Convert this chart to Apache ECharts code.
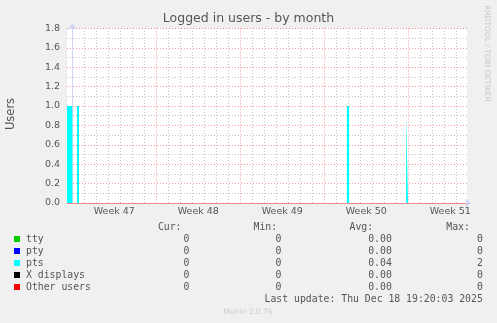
<!DOCTYPE html>
<html><head><meta charset="utf-8">
<script src="https://cdn.jsdelivr.net/npm/echarts@6/dist/echarts.min.js"></script>
<style>html,body{margin:0;padding:0;background:#f0f0f0;}#c{width:497px;height:323px;}</style>
</head><body><div id="c"></div>
<script>
// ---- data ----
const weekLabels = ['Week 47', 'Week 48', 'Week 49', 'Week 50', 'Week 51'];
const weekStarts = [0, 7, 14, 21, 28];            // days since Monday of week 47
const xMin = -0.44, xMax = 32.893;                 // visible time span (days)
const yTicks = [0, 0.2, 0.4, 0.6, 0.8, 1.0, 1.2, 1.4, 1.6, 1.8];
// pts logged-in users: periods (start day, end day) and averaged value
const ptsStart = [-0.44, 0.39, 22.88, 27.82];
const ptsEnd   = [0.0, 0.56, 23.07, 27.98];
const ptsValue = [1.0, 1.0, 1.0, 0.9];
const legendNames  = ['tty', 'pty', 'pts', 'X displays', 'Other users'];
const legendColors = ['#00cc00', '#0000ff', '#00ffff', '#000000', '#ff0000'];
const curValues = ['0', '0', '0', '0', '0'];
const minValues = ['0', '0', '0', '0', '0'];
const avgValues = ['0.00', '0.00', '0.04', '0.00', '0.00'];
const maxValues = ['0', '0', '2', '0', '0'];
const lastUpdate = 'Last update: Thu Dec 18 19:20:03 2025';

// ---- build ----
const dayTicks = [];
for (let d = Math.ceil(xMin); d <= xMax; d++) if (weekStarts.indexOf(d) < 0) dayTicks.push(d);
const ptsData = [[xMin, 0]];
for (let i = 0; i < ptsStart.length; i++) {
  ptsData.push([ptsStart[i], 0], [ptsStart[i], ptsValue[i]], [ptsEnd[i], ptsValue[i]], [ptsEnd[i], 0]);
}
ptsData.push([xMax, 0]);

const MONO = '"DejaVu Sans Mono", monospace';
const SANS = '"DejaVu Sans", sans-serif';
const FS = 9.8, TXT = '#555';
const graphics = [];
function txt(x, y, s, align, extra) {
  graphics.push(Object.assign({type: 'text', x: x, y: y, silent: true,
    style: {text: s, fill: TXT, font: FS + 'px ' + MONO, textAlign: align, textVerticalAlign: 'middle'}}, extra || {}));
}
const headY = 227, rowY0 = 239, rowH = 12;
txt(181.5, headY, 'Cur:', 'right');
txt(253.5, headY, 'Min:', 'left');
txt(349.5, headY, 'Avg:', 'left');
txt(446.3, headY, 'Max:', 'left');
legendNames.forEach((n, i) => {
  const y = rowY0 + i * rowH;
  graphics.push({type: 'rect', silent: true, shape: {x: 14, y: y - 3, width: 6, height: 6}, style: {fill: legendColors[i]}});
  txt(26, y, n, 'left');
  txt(189.5, y, curValues[i], 'right');
  txt(281.5, y, minValues[i], 'right');
  txt(391.8, y, avgValues[i], 'right');
  txt(482.8, y, maxValues[i], 'right');
});
txt(482.8, 299, lastUpdate, 'right');
graphics.push({type: 'text', x: 248, y: 312, silent: true,
  style: {text: 'Munin 2.0.76', fill: '#cccccc', font: '7.5px ' + SANS, textAlign: 'center', textVerticalAlign: 'middle'}});
graphics.push({type: 'text', x: 487, y: 53.5, rotation: -Math.PI / 2, silent: true,
  style: {text: 'RRDTOOL / TOBI OETIKER', fill: '#c8c8c8', font: '7.5px ' + SANS, textAlign: 'center', textVerticalAlign: 'middle'}});
graphics.push({type: 'text', x: 11, y: 114, rotation: Math.PI / 2, silent: true,
  style: {text: 'Users', fill: TXT, font: '11.5px ' + SANS, textAlign: 'center', textVerticalAlign: 'middle'}});

const MGRID = 'rgba(255,0,0,0.42)', GRID = '#c4c4c4';
const chart = echarts.init(document.getElementById('c'), null, {renderer: 'canvas'});
chart.setOption({
  animation: false,
  backgroundColor: '#f0f0f0',
  title: {text: 'Logged in users - by month', left: 'center', top: 12, padding: 0,
    textStyle: {fontSize: 12.5, fontWeight: 'normal', color: TXT, fontFamily: SANS}},
  grid: {left: 67, top: 28.4, width: 400, height: 174.6, show: true, backgroundColor: '#ffffff', borderWidth: 0},
  xAxis: [
    {type: 'value', min: xMin, max: xMax, position: 'bottom',
      axisLine: {show: true, onZero: false, lineStyle: {color: '#ee8a8a', width: 1}},
      axisTick: {show: false}, axisLabel: {show: false}, splitLine: {show: false}},
    {type: 'value', min: xMin, max: xMax, position: 'bottom',
      axisLine: {show: true, onZero: false, symbol: ['none', 'arrow'], symbolSize: [7, 6], symbolOffset: [0, 4],
        lineStyle: {color: '#cfd6f8', width: 0}},
      axisTick: {show: false, customValues: weekStarts},
      axisLabel: {show: true, customValues: weekStarts.map(d => d + 3.5), color: TXT, fontSize: 9.5, fontFamily: SANS, margin: 4,
        formatter: v => weekLabels[Math.round((v - 3.5) / 7)]},
      splitLine: {show: true, lineStyle: {color: MGRID, type: [1, 2], width: 1}}}
  ],
  yAxis: {type: 'value', min: yTicks[0], max: yTicks[yTicks.length - 1], interval: 0.2,
    axisLine: {show: true, symbol: ['none', 'arrow'], symbolSize: [7, 6], symbolOffset: [0, 5], lineStyle: {color: '#cfd6f8'}},
    axisTick: {show: false},
    axisLabel: {color: TXT, fontSize: 9.5, fontFamily: SANS, margin: 7, formatter: v => v.toFixed(1)},
    splitLine: {show: true, lineStyle: {color: MGRID, type: [1, 2], width: 1}},
    minorTick: {show: false, splitNumber: 2},
    minorSplitLine: {show: true, lineStyle: {color: GRID, type: [1, 2], width: 1}}},
  series: [{
    name: 'daygrid', type: 'line', xAxisIndex: 0, yAxisIndex: 0, data: [], z: 1, silent: true,
    markLine: {silent: true, z: 1, symbol: ['none', 'none'], label: {show: false}, animation: false,
      lineStyle: {color: GRID, type: [1, 2], width: 1},
      data: dayTicks.map(d => ({xAxis: d}))}
  }, {
    name: 'pts', type: 'line', xAxisIndex: 0, yAxisIndex: 0, data: ptsData,
    showSymbol: false, symbol: 'none', lineStyle: {width: 0}, areaStyle: {color: '#00ffff', opacity: 1}, z: 3
  }],
  graphic: graphics
});
</script></body></html>
